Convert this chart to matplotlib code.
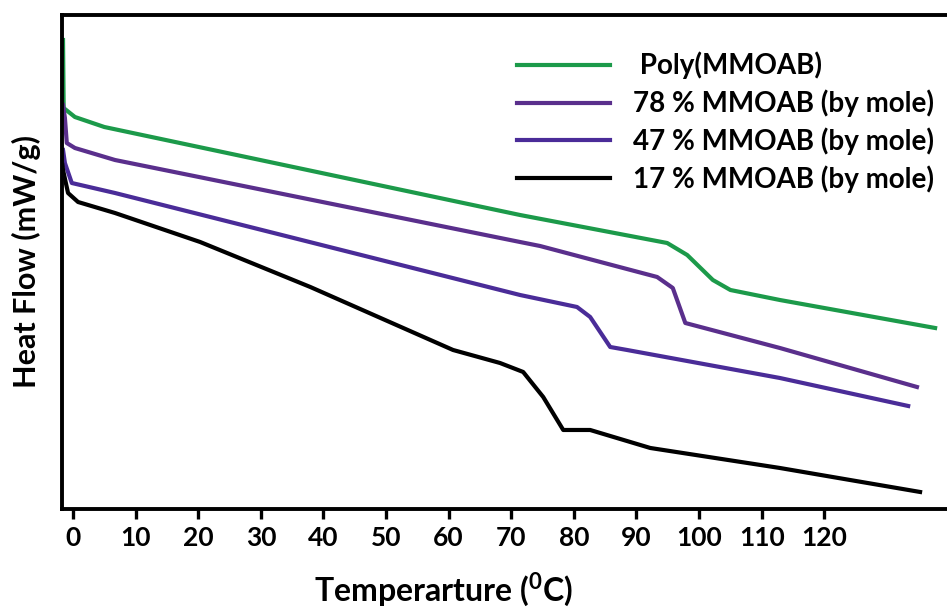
#!/usr/bin/env python
# DSC heating curves for poly(MMOAB) and its copolymers
import numpy as np
import matplotlib.pyplot as plt
from matplotlib import font_manager


def bold_family(candidates):
    # first family in the list that ships a real bold face
    for name in candidates:
        for f in font_manager.fontManager.ttflist:
            w = f.weight if isinstance(f.weight, int) else 400
            if f.name == name and (w >= 600 or f.weight == 'bold'):
                return name
    return 'DejaVu Sans'


fam = bold_family(['Lato', 'Open Sans', 'Noto Sans', 'Roboto', 'Liberation Sans'])
plt.rcParams['font.family'] = [fam, 'DejaVu Sans']
plt.rcParams['font.weight'] = 'bold'
plt.rcParams['mathtext.fontset'] = 'custom'
plt.rcParams['mathtext.rm'] = fam + ':bold'
plt.rcParams['mathtext.bf'] = fam + ':bold'

# temperature (C) and heat flow (mW/g, arbitrary offset) for each sample
t_poly = [-1.6, -1.5, 0.3, 5.0, 71.4, 94.9, 98.1, 102.2, 105.0, 112.9, 137.7]
hf_poly = [4.69, 4.01, 3.92, 3.82, 2.94, 2.66, 2.54, 2.29, 2.19, 2.09, 1.81]

t_78 = [-1.6, -1.3, -1.0, 0.3, 6.7, 71.4, 74.6, 93.3, 95.8, 97.8, 112.9, 134.8]
hf_78 = [4.04, 3.91, 3.66, 3.61, 3.49, 2.67, 2.63, 2.32, 2.21, 1.86, 1.61, 1.22]

t_47 = [-1.6, -1.3, -0.2, 6.7, 71.4, 80.5, 82.6, 85.8, 88.5, 112.9, 133.4]
hf_47 = [3.59, 3.46, 3.26, 3.16, 2.14, 2.02, 1.92, 1.62, 1.59, 1.31, 1.03]

t_17 = [-1.7, -1.6, -0.8, 0.8, 6.7, 20.3, 37.9, 60.7, 68.2, 71.9, 75.1, 78.3, 82.6, 92.2, 112.9, 135.3]
hf_17 = [3.44, 3.39, 3.16, 3.07, 2.96, 2.67, 2.22, 1.59, 1.46, 1.37, 1.12, 0.79, 0.79, 0.61, 0.41, 0.17]

labels = [' Poly(MMOAB)', '78 % MMOAB (by mole)', '47 % MMOAB (by mole)', '17 % MMOAB (by mole)']
colors = ['#1c9a4a', '#5a2f8c', '#4a2c98', '#000000']
xticks = np.arange(0, 130, 10)

fig = plt.figure(figsize=(9.47, 6.13), dpi=100)
ax = fig.add_axes([0.0655, 0.1697, 0.9345, 0.8058])

for tt, hf, lab, col in zip([t_poly, t_78, t_47, t_17], [hf_poly, hf_78, hf_47, hf_17], labels, colors):
    ax.plot(tt, hf, color=col, lw=3.0, label=lab, solid_joinstyle='round')

ax.set_xlim(-1.76, 139.6)
ax.set_ylim(0, 4.94)
ax.set_xticks(xticks)
ax.set_xticklabels([str(v) for v in xticks], fontsize=19, fontweight='bold')
ax.set_yticks([])
ax.tick_params(axis='x', direction='out', length=7, width=2.4, pad=5)
ax.spines['right'].set_visible(False)
for s in ['left', 'top', 'bottom']:
    ax.spines[s].set_linewidth(2.8)

ax.set_ylabel('Heat Flow (mW/g)', fontsize=22, fontweight='bold')
ax.yaxis.set_label_coords(-0.024, 0.5)
ax.set_xlabel(r'Temperarture ($^{0}$C)', fontsize=23, fontweight='bold')
ax.xaxis.set_label_coords((443 - 62) / 885, -0.125)

ax.legend(loc='upper left', bbox_to_anchor=(0.502, 0.948), frameon=False, fontsize=20,
          handlelength=3.35, handletextpad=0.8, labelspacing=0.37, borderaxespad=0)

fig.savefig('out.png', dpi=100)
